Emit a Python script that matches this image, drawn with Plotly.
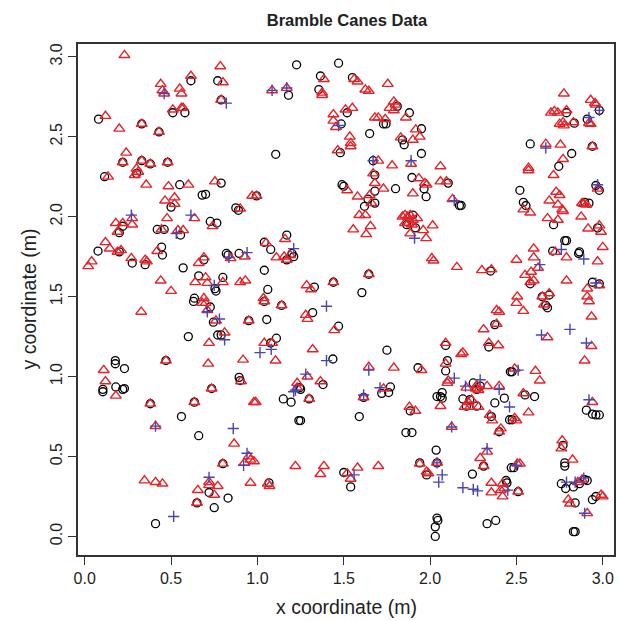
import plotly.graph_objects as go

# ---- data: age 0 (circles), age 1 (triangles), age 2 (plus) ----
circle_pts = [
    (0.615,2.85),(0.77,2.85),(0.79,2.73),(0.51,2.65),(0.58,2.65),(0.08,2.61),(0.33,2.58),(0.43,2.53),
    (0.22,2.34),(0.33,2.35),(0.38,2.33),(0.48,2.34),
    (1.227,2.95),(1.47,2.96),(1.365,2.88),(1.18,2.76),(1.356,2.795),(1.55,2.87),(1.81,2.69),(1.88,2.65),
    (1.52,2.65),(1.485,2.58),(1.73,2.58),(1.745,2.58),(1.65,2.52),(1.48,2.40),(1.106,2.39),(1.84,2.48),
    (1.85,2.45),(1.95,2.55),(1.95,2.395),(1.67,2.35),
    (2.98,2.665),(2.79,2.65),(2.835,2.585),(2.91,2.61),(2.58,2.455),(2.94,2.44),(2.82,2.395),(2.745,2.315),
    (0.115,2.25),(0.30,2.27),(0.55,2.20),(0.79,2.21),(0.68,2.135),(0.70,2.14),(0.50,2.06),(0.875,2.055),
    (0.89,2.04),(0.20,1.90),(0.22,1.94),(0.42,1.92),(0.46,1.92),(0.727,1.97),(0.765,1.96),(0.555,1.885),
    (0.077,1.785),(0.20,1.78),(0.275,1.71),(0.35,1.70),(0.445,1.81),(0.45,1.76),(0.57,1.68),(0.82,1.77),
    (0.83,1.76),(0.894,1.77),(0.69,1.73),(0.66,1.63),(0.80,1.62),(0.754,1.55),(0.76,1.535),(0.635,1.49),
    (1.68,2.26),(1.49,2.20),(1.50,2.19),(1.64,2.11),(1.68,2.16),(1.80,2.175),(1.68,2.085),(1.62,2.065),
    (1.895,2.245),(1.965,2.175),(1.977,2.125),(1.90,2.01),(1.865,1.95),(1.915,1.93),(0.995,2.13),(1.04,1.84),
    (1.17,1.885),(1.077,1.795),(1.17,1.73),(1.20,1.77),(1.21,1.75),(1.04,1.665),(1.06,1.545),(1.33,1.56),
    (1.44,1.59),(1.645,1.64),(1.605,1.525),
    (2.105,2.21),(2.17,2.07),(2.18,2.07),(2.52,2.165),(2.54,2.09),(2.555,2.07),(2.715,1.95),(2.895,2.09),
    (2.92,2.085),(2.96,2.195),(2.98,2.165),(2.97,1.93),(2.78,1.85),(2.79,1.85),(2.71,1.785),(2.86,1.77),
    (2.865,1.78),(2.35,1.66),(2.58,1.58),(2.94,1.59),(2.98,1.58),(2.65,1.50),(2.69,1.51),
    (0.63,1.47),(0.727,1.435),(0.745,1.34),(0.95,1.35),(0.60,1.25),(0.77,1.26),(0.79,1.26),(0.177,1.10),
    (0.177,1.08),(0.23,1.05),(0.47,1.10),(0.105,0.92),(0.105,0.905),(0.18,0.935),(0.22,0.92),(0.23,0.925),
    (0.894,0.995),(0.90,0.975),(0.735,0.925),(0.38,0.83),(0.635,0.84),(0.56,0.75),
    (1.04,1.47),(1.14,1.445),(1.32,1.40),(1.054,1.357),(1.47,1.315),(1.077,1.21),(1.11,1.24),(1.437,1.11),
    (1.75,1.165),(1.93,1.055),(1.245,0.93),(1.25,0.92),(1.38,0.95),(1.15,0.86),(1.195,0.84),(1.30,0.86),
    (1.72,0.895),(1.76,0.90),(1.77,0.935),(1.615,0.87),(1.885,0.785),(1.59,0.75),(1.24,0.725),(1.25,0.725),
    (2.67,1.445),(2.68,1.43),(2.375,1.325),(2.09,1.195),(2.34,1.185),(2.10,1.10),(2.09,1.035),(2.465,1.03),
    (2.475,1.03),(2.25,0.96),(2.29,0.94),(2.27,0.92),(2.07,0.90),(2.06,0.875),(2.04,0.875),(2.07,0.865),
    (2.19,0.86),(2.23,0.855),(2.21,0.815),(2.27,0.815),(2.375,0.835),(2.43,0.865),(2.55,0.885),(2.605,0.875),
    (2.355,0.75),(2.46,0.73),(2.475,0.73),(2.905,0.79),(2.94,0.765),(2.96,0.76),(2.98,0.76),
    (0.66,0.63),(0.80,0.455),(0.72,0.275),(0.65,0.21),(0.83,0.24),(0.75,0.18),(0.41,0.08),
    (1.86,0.65),(1.895,0.65),(1.067,0.335),(1.50,0.40),(1.54,0.31),(1.98,0.385),(1.94,0.46),
    (2.40,0.655),(2.035,0.54),(2.31,0.44),(2.04,0.46),(2.245,0.39),(2.44,0.35),(2.445,0.335),(2.47,0.43),
    (2.485,0.43),(2.51,0.28),(2.77,0.57),(2.78,0.46),(2.78,0.44),(2.76,0.33),(2.785,0.30),(2.83,0.31),
    (2.865,0.33),(2.895,0.355),(2.91,0.35),(2.84,0.21),(2.94,0.23),(2.96,0.25),(2.83,0.03),(2.84,0.03),
    (2.33,0.08),(2.38,0.10),(2.04,0.115),(2.045,0.10),(2.03,0.06),(2.03,0.0),
]
triangle_pts = [
    (0.23,3.01),(0.44,2.83),(0.45,2.79),(0.46,2.77),(0.55,2.80),(0.56,2.77),(0.615,2.88),(0.785,2.94),
    (0.80,2.84),(0.79,2.73),(0.51,2.67),(0.56,2.68),(0.57,2.68),(0.12,2.63),(0.33,2.58),(0.20,2.55),
    (0.43,2.53),(0.24,2.40),(0.22,2.34),(0.33,2.35),(0.38,2.33),(0.48,2.34),(0.30,2.30),
    (1.385,2.86),(1.085,2.79),(1.17,2.805),(1.375,2.775),(1.375,2.76),(1.56,2.86),(1.58,2.845),(1.625,2.795),
    (1.645,2.786),(1.755,2.83),(1.79,2.72),(1.80,2.70),(1.765,2.68),(1.79,2.665),(1.86,2.62),(1.44,2.64),
    (1.51,2.67),(1.55,2.68),(1.44,2.60),(1.455,2.56),(1.68,2.62),(1.70,2.62),(1.74,2.61),(1.535,2.50),
    (1.54,2.46),(1.54,2.44),(1.465,2.415),(1.83,2.495),(1.90,2.48),(1.94,2.50),(1.917,2.545),(1.70,2.35),
    (1.78,2.32),(1.89,2.33),
    (2.775,2.77),(2.93,2.73),(2.955,2.71),(2.96,2.70),(2.70,2.65),(2.72,2.66),(2.74,2.65),(2.79,2.665),
    (2.75,2.58),(2.77,2.59),(2.775,2.57),(2.83,2.59),(2.92,2.585),(2.93,2.58),(2.67,2.455),(2.755,2.45),
    (2.94,2.44),(2.77,2.36),(2.57,2.305),(2.06,2.315),
    (0.135,2.25),(0.29,2.26),(0.31,2.28),(0.356,2.20),(0.485,2.19),(0.60,2.20),(0.754,2.22),(0.52,2.12),
    (0.465,2.10),(0.52,2.08),(0.97,2.13),(0.90,2.05),(0.275,1.99),(0.18,1.96),(0.22,1.96),(0.19,1.905),
    (0.275,1.95),(0.477,1.99),(0.445,1.92),(0.635,1.99),(0.74,1.94),(0.54,1.915),(0.57,1.915),(0.12,1.84),
    (0.145,1.80),(0.19,1.78),(0.21,1.79),(0.02,1.69),(0.04,1.72),(0.27,1.74),(0.35,1.73),(0.36,1.72),
    (0.42,1.785),(0.845,1.74),(0.927,1.75),(0.66,1.71),(0.69,1.745),(0.64,1.59),(0.70,1.62),(0.71,1.585),
    (0.80,1.59),(0.90,1.59),(0.93,1.60),(0.44,1.60),(0.50,1.535),(0.69,1.49),
    (1.67,2.27),(1.68,2.21),(1.52,2.165),(1.58,2.125),(1.65,2.135),(1.73,2.175),(1.66,2.085),(1.59,2.01),
    (1.625,2.01),(1.555,1.92),(1.655,1.94),(1.63,1.89),(1.935,2.24),(1.97,2.21),(1.98,2.20),(1.90,2.145),
    (1.84,2.00),(1.855,2.01),(1.87,2.00),(1.885,2.01),(1.90,1.98),(1.925,1.99),(1.875,1.96),(1.895,1.95),
    (1.855,1.96),(1.885,1.895),(1.96,1.915),(1.977,1.865),(2.015,1.945),(2.01,1.74),(2.02,1.725),(0.995,2.13),
    (1.05,1.835),(1.16,1.86),(1.11,1.745),(1.155,1.75),(1.17,1.73),(1.19,1.76),(1.035,1.49),(1.285,1.57),
    (1.31,1.545),(1.44,1.59),(1.645,1.64),
    (2.06,2.22),(2.095,2.22),(2.57,2.29),(2.715,2.26),(2.13,2.11),(2.54,2.045),(2.58,2.025),(2.73,2.155),
    (2.75,2.135),(2.69,2.10),(2.74,2.075),(2.765,2.045),(2.77,2.035),(2.68,1.99),(2.74,1.98),(2.88,2.085),
    (2.89,2.08),(2.905,2.075),(2.875,2.00),(2.97,2.175),(2.915,1.925),(2.98,1.945),(2.99,1.905),(3.0,1.81),
    (2.725,1.78),(2.60,1.80),(2.60,1.745),(2.50,1.73),(2.79,1.745),(2.97,1.72),(2.155,1.685),(2.30,1.665),
    (2.355,1.67),(2.625,1.68),(2.55,1.635),(2.585,1.655),(2.60,1.60),(2.58,1.59),(2.79,1.60),(2.98,1.57),
    (2.505,1.50),(2.65,1.50),(2.69,1.52),(2.91,1.55),(2.91,1.50),
    (0.68,1.46),(0.70,1.46),(0.71,1.415),(0.327,1.405),(0.76,1.35),(0.95,1.35),(0.81,1.275),(0.72,1.21),
    (0.11,1.04),(0.47,1.10),(0.715,1.08),(0.917,1.105),(0.12,0.97),(0.18,0.88),(0.905,0.97),(0.735,0.925),
    (0.38,0.83),(0.635,0.84),(0.98,0.84),(0.41,0.69),
    (1.04,1.47),(1.14,1.445),(1.28,1.385),(1.29,1.36),(1.445,1.29),(1.04,1.21),(1.085,1.21),(1.32,1.17),
    (1.105,1.10),(1.645,1.06),(1.79,1.055),(1.95,1.04),(1.29,1.00),(1.23,0.96),(1.23,0.93),(1.365,0.97),
    (1.30,0.86),(0.99,0.84),(1.73,0.925),(1.615,0.87),(1.88,0.81),(1.915,0.785),
    (2.50,1.46),(2.66,1.45),(2.92,1.47),(2.385,1.415),(2.40,1.405),(2.54,1.41),(2.935,1.375),(2.385,1.33),
    (2.31,1.295),(2.68,1.245),(2.09,1.21),(2.34,1.21),(2.395,1.195),(2.935,1.19),(2.18,1.14),(2.19,1.15),
    (2.895,1.10),(2.09,1.08),(2.49,1.05),(2.61,1.035),(2.635,0.975),(2.105,0.975),(2.10,0.96),(2.21,0.93),
    (2.27,0.945),(2.265,0.925),(2.28,0.915),(2.33,0.94),(2.40,0.94),(2.06,0.815),(2.22,0.84),(2.24,0.855),
    (2.20,0.81),(2.23,0.81),(2.28,0.81),(2.54,0.895),(2.57,0.775),(2.345,0.76),(2.36,0.725),(2.49,0.74),
    (2.50,0.725),(2.94,0.84),(2.125,0.685),(2.41,0.675),
    (0.865,0.58),(0.95,0.50),(0.96,0.48),(0.80,0.455),(0.925,0.46),(0.346,0.35),(0.41,0.34),(0.45,0.33),
    (0.72,0.34),(0.72,0.32),(0.77,0.315),(0.75,0.26),(0.96,0.335),(0.655,0.29),(0.65,0.21),
    (0.98,0.47),(1.06,0.33),(1.07,0.315),(1.22,0.44),(1.385,0.44),(1.365,0.39),(1.52,0.395),(1.54,0.36),
    (1.58,0.43),(1.70,0.44),(1.94,0.455),(1.98,0.405),(1.99,0.395),
    (2.40,0.655),(2.33,0.53),(2.29,0.49),(2.31,0.44),(2.04,0.46),(2.355,0.335),(2.42,0.33),(2.43,0.30),
    (2.41,0.29),(2.355,0.275),(2.42,0.25),(2.505,0.455),(2.52,0.455),(2.51,0.28),(2.765,0.60),(2.76,0.55),
    (2.825,0.48),(2.855,0.34),(2.88,0.355),(2.80,0.23),(2.81,0.205),(2.99,0.26),(3.0,0.25),(2.91,0.145),
]
plus_pts = [
    (0.46,2.77),(0.82,2.71),(1.085,2.79),(1.17,2.805),(1.47,2.57),(1.67,2.35),(1.89,2.35),
    (2.98,2.665),(2.92,2.62),(2.67,2.43),
    (0.27,2.01),(0.615,2.01),(0.53,1.895),(0.835,1.745),(0.94,1.775),(0.75,1.57),
    (1.91,1.865),(1.21,1.80),
    (2.14,2.10),(2.76,1.795),(2.635,1.70),(2.89,1.735),(2.96,1.585),(2.97,2.20),
    (0.71,1.405),(0.78,1.36),(0.81,1.23),(0.41,0.69),(0.86,0.675),
    (1.40,1.44),(1.08,1.17),(1.015,1.15),(1.40,1.10),(1.645,1.04),(1.28,1.015),(1.22,0.915),(1.21,0.905),
    (1.71,0.93),(1.615,0.885),
    (2.81,1.295),(2.645,1.26),(2.905,1.21),(2.51,1.04),(2.14,0.99),(2.205,0.94),(2.29,0.98),(2.40,0.92),
    (2.46,0.81),(2.92,0.855),(2.125,0.685),
    (0.94,0.52),(0.92,0.445),(0.72,0.37),(0.515,0.125),
    (1.56,0.385),
    (2.33,0.55),(2.04,0.46),(2.07,0.385),(2.05,0.34),(2.19,0.305),(2.25,0.295),(2.275,0.285),(2.45,0.29),
    (2.50,0.445),(2.79,0.34),(2.84,0.34),(2.89,0.365),(2.895,0.145),
]
tick_vals = [0.0, 0.5, 1.0, 1.5, 2.0, 2.5, 3.0]
tick_text = ["0.0", "0.5", "1.0", "1.5", "2.0", "2.5", "3.0"]

FONT = "Liberation Sans, Arial, Helvetica, sans-serif"

fig = go.Figure()
fig.add_trace(go.Scatter(
    x=[p[0] for p in circle_pts], y=[p[1] for p in circle_pts], mode="markers",
    marker=dict(symbol="circle-open", size=8, color="black", line=dict(width=1.3, color="black")),
    showlegend=False))
fig.add_trace(go.Scatter(
    x=[p[0] for p in triangle_pts], y=[p[1] for p in triangle_pts], mode="markers",
    marker=dict(symbol="triangle-up-open", size=9.5, color="#e3242b", line=dict(width=1.4, color="#e3242b")),
    showlegend=False))
fig.add_trace(go.Scatter(
    x=[p[0] for p in plus_pts], y=[p[1] for p in plus_pts], mode="markers",
    marker=dict(symbol="cross-thin-open", size=8, color="#4646b4", line=dict(width=1.4, color="#4646b4")),
    showlegend=False))

axis_common = dict(
    tickvals=tick_vals, ticktext=tick_text, ticks="outside", ticklen=8, tickwidth=1.2,
    tickcolor="#333333", showline=True, mirror=True, linecolor="#333333", linewidth=1.5,
    showgrid=False, zeroline=False, tickfont=dict(family=FONT, size=16, color="#222222"),
)
fig.update_xaxes(range=[-0.039, 3.065], **axis_common)
fig.update_yaxes(range=[-0.116, 3.08], tickangle=-90, **axis_common)

fig.update_layout(
    width=620, height=621,
    margin=dict(l=78, r=4, t=44, b=66),
    plot_bgcolor="white", paper_bgcolor="white",
    title=dict(text="<b>Bramble Canes Data</b>", x=347/620, xanchor="center",
               y=1 - 20/621, yanchor="middle", yref="container",
               font=dict(family=FONT, size=16.5, color="#222222")),
    annotations=[
        dict(text="x coordinate (m)", xref="paper", yref="paper", x=0.5, y=0,
             xanchor="center", yanchor="middle", yshift=-52, showarrow=False,
             font=dict(family=FONT, size=19.5, color="#222222")),
        dict(text="y coordinate (m)", xref="paper", yref="paper", x=0, y=0.5,
             xanchor="center", yanchor="middle", xshift=-50, textangle=-90, showarrow=False,
             font=dict(family=FONT, size=19.5, color="#222222")),
    ],
)
fig.write_html("out.html")
